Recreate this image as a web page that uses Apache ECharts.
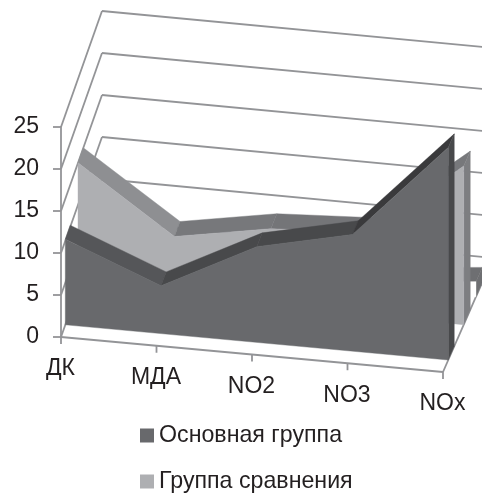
<!DOCTYPE html>
<html>
<head>
<meta charset="utf-8">
<style>html,body{margin:0;padding:0;background:#fff}#c{width:482px;height:493px}</style>
<script src="https://cdn.jsdelivr.net/npm/echarts@6/dist/echarts.min.js"></script>
</head>
<body>
<div id="c"></div>
<script>
const categories = ['ДК', 'МДА', 'NO2', 'NO3', 'NOx'];
const mainGroup = [10.2, 5.7, 11.4, 13.9, 25.3];
const comparisonGroup = [15.0, 7.3, 9.3, 9.9, 18.9];
const unnamedBack = [2, 1.5, 1, 0.7, 1.8];
const valueTicks = [0, 5, 10, 15, 20, 25];

// Look of the pseudo-3D scene (styles and depth, kept apart from the data)
const TILT = 35 / 382;
const DEPTH = { dxL: 41, dxR: 50, dyL: 116, dyR: 114 };
const LINE = '#939497';
const TEXT = '#231f20';
const FONT = '"Liberation Sans", Arial, sans-serif';
const looks = {
  main: { d: 0.105, t: 0.12, face: '#68696c', side: '#48494b', strips: ['#555659', '#48494b', '#48494b', '#3a3a3c'] },
  comp: { d: 0.415, t: 0.13, face: '#aeafb2', side: '#7d7e81', strips: ['#8e8f92', '#77787b', '#747578', '#77787b'] },
  back: { d: 0.66, t: 0.125, face: '#ffffff', side: '#6e6f72', strips: ['#6e6f72', '#6e6f72', '#6e6f72', '#6e6f72'] }
};

// Project (category index, value, depth 0..1) through the grid's own scales, then shear.
function projector(api) {
  const last = categories.length - 1;
  const start = api.coord([0, 0])[0];
  return function (i, v, d) {
    const p = api.coord([i, v]);
    const f = i / last;
    return [
      p[0] + d * (DEPTH.dxL + (DEPTH.dxR - DEPTH.dxL) * f),
      p[1] + TILT * (p[0] - start) - d * (DEPTH.dyL + (DEPTH.dyR - DEPTH.dyL) * f)
    ];
  };
}
function poly(points, fill) {
  return { type: 'polygon', shape: { points: points }, style: { fill: fill, stroke: fill, lineWidth: 0.4 } };
}
function seg(a, b, width) {
  return { type: 'line', shape: { x1: a[0], y1: a[1], x2: b[0], y2: b[1] }, style: { stroke: LINE, lineWidth: width || 1.8 } };
}

function wallRender(params, api) {
  if (params.dataIndex !== 0) return null;
  const P = projector(api);
  const last = categories.length - 1;
  const kids = [];
  valueTicks.forEach(function (v) {
    kids.push(seg(P(0, v, 0), P(0, v, 1)));
    kids.push(seg(P(0, v, 1), P(last, v, 1)));
  });
  kids.push(seg(P(0, 0, 0), P(last, 0, 0)));
  kids.push(seg(P(last, 0, 0), P(last, 0, 1)));
  categories.forEach(function (name, i) {
    const a = P(i, 0, 0);
    kids.push(seg(a, [a[0], a[1] + 7]));
    kids.push({
      type: 'text',
      style: { text: name, x: a[0] - 0.5, y: a[1] + 32, align: 'center', verticalAlign: 'middle',
               font: '23px ' + FONT, fill: TEXT }
    });
  });
  return { type: 'group', children: kids };
}

function areaRender(values, look) {
  return function (params, api) {
    if (params.dataIndex !== 0) return null;
    const P = projector(api);
    const d = look.d, e = look.d + look.t, last = values.length - 1;
    const kids = [];
    for (let i = 0; i < last; i++) {
      kids.push(poly([P(i, values[i], d), P(i + 1, values[i + 1], d), P(i + 1, values[i + 1], e), P(i, values[i], e)], look.strips[i]));
    }
    kids.push(poly([P(last, 0, d), P(last, values[last], d), P(last, values[last], e), P(last, 0, e)], look.side));
    const face = [P(0, 0, d)];
    values.forEach(function (v, i) { face.push(P(i, v, d)); });
    face.push(P(last, 0, d));
    kids.push(poly(face, look.face));
    return { type: 'group', children: kids };
  };
}

function rows(values) { return values.map(function (v, i) { return [i, v]; }); }
function legendRow(name, top) {
  return {
    orient: 'horizontal', left: 140, top: top, padding: 0, itemWidth: 14, itemHeight: 14,
    icon: 'rect', data: [name], selectedMode: false,
    textStyle: { fontSize: 23.2, color: TEXT, fontFamily: FONT }
  };
}

const chart = echarts.init(document.getElementById('c'), null, { renderer: 'canvas' });
chart.setOption({
  animation: false,
  backgroundColor: '#ffffff',
  grid: { left: 61, right: 39, top: 127, height: 210, containLabel: false },
  xAxis: { type: 'category', data: categories, boundaryGap: false, show: false },
  yAxis: {
    type: 'value', min: 0, max: 25, interval: 5,
    splitLine: { show: false },
    axisLine: { show: true, lineStyle: { color: LINE, width: 1.8 } },
    axisTick: { show: true, length: 8, lineStyle: { color: LINE, width: 1.8 } },
    axisLabel: { margin: 22, fontSize: 23, color: TEXT, fontFamily: FONT }
  },
  legend: [legendRow('Основная группа', 424), legendRow('Группа сравнения', 470)],
  series: [
    { type: 'custom', name: 'walls', renderItem: wallRender, clip: false, silent: true, data: rows(valueTicks.slice(0, 1)), z: 1 },
    { type: 'custom', name: 'Третий ряд', renderItem: areaRender(unnamedBack, looks.back), clip: false, silent: true, data: rows(unnamedBack), itemStyle: { color: looks.back.side }, z: 2 },
    { type: 'custom', name: 'Группа сравнения', renderItem: areaRender(comparisonGroup, looks.comp), clip: false, silent: true, data: rows(comparisonGroup), itemStyle: { color: looks.comp.face }, z: 3 },
    { type: 'custom', name: 'Основная группа', renderItem: areaRender(mainGroup, looks.main), clip: false, silent: true, data: rows(mainGroup), itemStyle: { color: looks.main.face }, z: 4 }
  ]
});
</script>
</body>
</html>
